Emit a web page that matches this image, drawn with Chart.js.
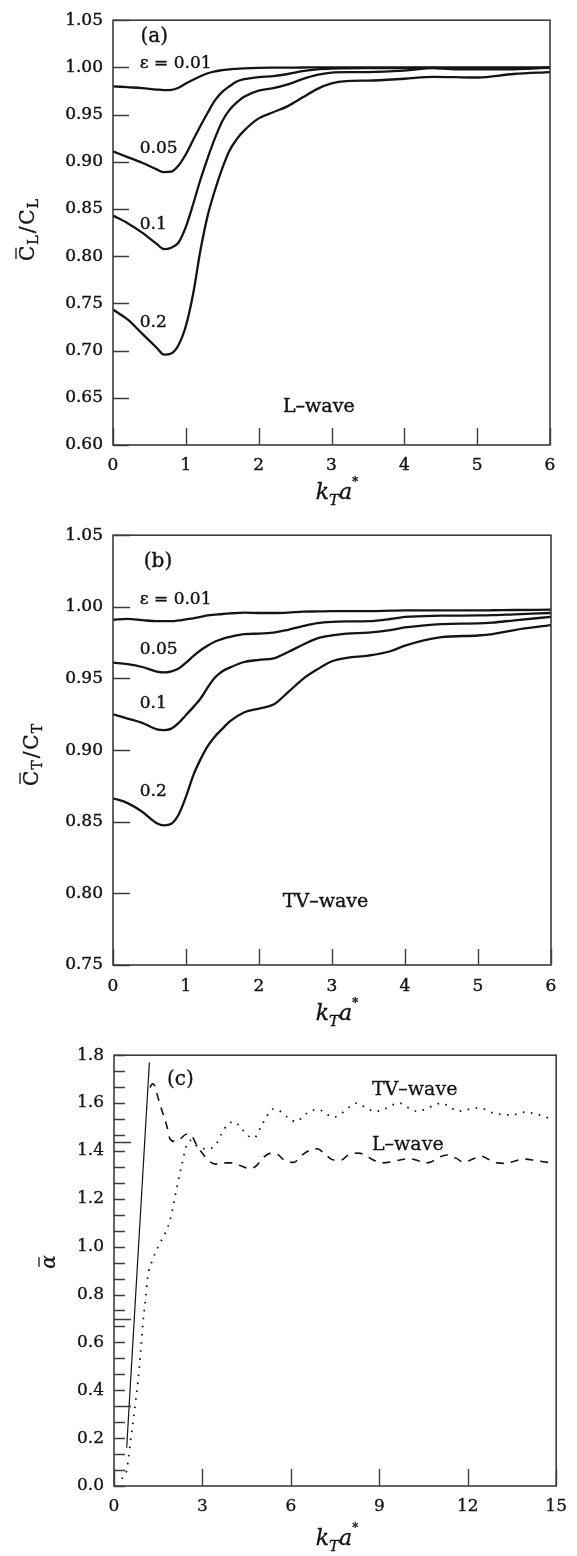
<!DOCTYPE html>
<html>
<head>
<meta charset="utf-8">
<script src="https://cdn.jsdelivr.net/npm/chart.js@4.4.1/dist/chart.umd.min.js"></script>
<style>
  html, body { margin: 0; padding: 0; background: #fff; }
  body { width: 577px; height: 1556px; position: relative; overflow: hidden; }
  .panel { position: absolute; left: 0; width: 577px; }
  #pa { top: 0; height: 515px; }
  #pb { top: 515px; height: 520px; }
  #pc { top: 1035px; height: 521px; }
</style>
</head>
<body>
<div class="panel" id="pa"><canvas id="ca"></canvas></div>
<div class="panel" id="pb"><canvas id="cb"></canvas></div>
<div class="panel" id="pc"><canvas id="cc"></canvas></div>
<script>
const SERIF = '"DejaVu Serif", "Liberation Serif", serif';
const INK = "#141414";
const FRAME = "#3c3c3c";

// (a) L-wave: C̄L/CL against kTa*
const kaA = [0, 0.2, 0.4, 0.6, 0.7, 0.8, 0.9, 1.0, 1.1, 1.2, 1.3, 1.4, 1.5, 1.6, 1.7, 1.8,
  2.0, 2.2, 2.4, 2.6, 2.8, 3.0, 3.2, 3.5, 4.0, 4.4, 4.7, 5.0, 5.5, 6.0];
const clEps001 = [0.980, 0.979, 0.978, 0.9765, 0.976, 0.9762, 0.9785, 0.983, 0.987, 0.9907, 0.9938, 0.9959, 0.997, 0.998, 0.9985, 0.999,
  0.9995, 0.9997, 0.9998, 0.9999, 1.0, 1.0, 1.0, 1.0, 1.0, 1.0, 1.0, 1.0, 1.0, 1.0];
const clEps005 = [0.911, 0.905, 0.899, 0.892, 0.889, 0.8895, 0.896, 0.908, 0.923, 0.938, 0.952, 0.965, 0.974, 0.980, 0.985, 0.9875,
  0.9897, 0.9908, 0.993, 0.996, 0.998, 0.9988, 0.999, 0.9992, 0.9993, 0.9995, 0.9988, 0.9988, 0.999, 0.9995];
const clEps01 = [0.843, 0.835, 0.825, 0.813, 0.8075, 0.809, 0.8145, 0.831, 0.855, 0.881, 0.904, 0.925, 0.943, 0.955, 0.963, 0.969,
  0.9755, 0.978, 0.982, 0.9875, 0.992, 0.9945, 0.995, 0.995, 0.9965, 0.9993, 0.998, 0.998, 0.998, 1.0];
const clEps02 = [0.7435, 0.733, 0.718, 0.703, 0.6957, 0.697, 0.706, 0.726, 0.760, 0.806, 0.843, 0.870, 0.893, 0.912, 0.924, 0.933,
  0.946, 0.9525, 0.959, 0.968, 0.977, 0.983, 0.9855, 0.986, 0.988, 0.990, 0.9896, 0.9893, 0.993, 0.995];
const clTicks = [0.60, 0.65, 0.70, 0.75, 0.80, 0.85, 0.90, 0.95, 1.00, 1.05];

// (b) TV-wave: C̄T/CT against kTa*
const kaB = [0, 0.2, 0.4, 0.6, 0.7, 0.8, 0.9, 1.0, 1.1, 1.2, 1.3, 1.4, 1.5, 1.6, 1.8,
  2.0, 2.2, 2.4, 2.6, 2.8, 3.0, 3.2, 3.5, 3.8, 4.0, 4.5, 5.0, 5.2, 5.5, 6.0];
const ctEps001 = [0.991, 0.9916, 0.9907, 0.990, 0.990, 0.990, 0.9905, 0.9913, 0.992, 0.993, 0.994, 0.9945, 0.995, 0.9954, 0.9959,
  0.9957, 0.9957, 0.996, 0.9966, 0.9968, 0.997, 0.997, 0.997, 0.9973, 0.9975, 0.9975, 0.9975, 0.9976, 0.9978, 0.998];
const ctEps005 = [0.961, 0.960, 0.958, 0.9548, 0.9542, 0.955, 0.957, 0.961, 0.9656, 0.9697, 0.973, 0.9758, 0.9777, 0.979, 0.981,
  0.9813, 0.982, 0.984, 0.9865, 0.9886, 0.9895, 0.9898, 0.990, 0.9915, 0.993, 0.9938, 0.994, 0.9942, 0.9948, 0.9957];
const ctEps01 = [0.925, 0.922, 0.919, 0.9145, 0.914, 0.915, 0.919, 0.9245, 0.930, 0.936, 0.944, 0.9508, 0.955, 0.9576, 0.9615,
  0.963, 0.964, 0.9685, 0.9735, 0.978, 0.980, 0.9813, 0.982, 0.9838, 0.9856, 0.988, 0.9884, 0.989, 0.9906, 0.993];
const ctEps02 = [0.8664, 0.863, 0.857, 0.849, 0.8475, 0.8486, 0.855, 0.8675, 0.8824, 0.8937, 0.903, 0.9097, 0.915, 0.920, 0.9264,
  0.929, 0.9318, 0.9405, 0.9496, 0.9564, 0.962, 0.9644, 0.966, 0.969, 0.9729, 0.9788, 0.980, 0.981, 0.9838, 0.9872];
const ctTicks = [0.75, 0.80, 0.85, 0.90, 0.95, 1.00, 1.05];
const kaTicks = [0, 1, 2, 3, 4, 5, 6];

// (c) ᾱ against kTa*
const solidX = [0.43, 1.2];
const solidY = [0.16, 1.77];
const lWaveX = [1.22, 1.3, 1.38, 1.5, 1.65, 1.8, 1.9, 2.05, 2.25, 2.45, 2.62, 2.8, 3.0, 3.2, 3.45, 3.7, 4.0, 4.25, 4.6, 4.8,
  5.05, 5.3, 5.55, 5.85, 6.1, 6.35, 6.65, 6.9, 7.15, 7.45, 7.7, 7.95, 8.3, 8.55, 8.8, 9.1, 9.4, 9.7, 10.0, 10.25,
  10.55, 10.75, 11.05, 11.3, 11.6, 11.85, 12.1, 12.45, 12.75, 13.0, 13.3, 13.6, 13.9, 14.3, 14.9];
const lWaveY = [1.665, 1.68, 1.672, 1.62, 1.56, 1.5, 1.45, 1.44, 1.45, 1.47, 1.465, 1.425, 1.39, 1.36, 1.345, 1.35, 1.35, 1.34, 1.327, 1.335,
  1.37, 1.39, 1.385, 1.355, 1.352, 1.38, 1.403, 1.409, 1.387, 1.362, 1.362, 1.383, 1.391, 1.38, 1.362, 1.35, 1.354, 1.362, 1.368, 1.362,
  1.35, 1.354, 1.375, 1.383, 1.37, 1.354, 1.362, 1.378, 1.362, 1.35, 1.348, 1.358, 1.366, 1.36, 1.348];
const tvWaveX = [0.26, 0.43, 0.48, 0.56, 0.65, 0.73, 0.81, 0.9, 0.98, 1.07, 1.14, 1.31, 1.53, 1.75, 1.9, 2.03, 2.14, 2.31, 2.44, 2.59,
  2.86, 3.2, 3.47, 3.64, 3.86, 4.08, 4.3, 4.53, 4.75, 4.97, 5.19, 5.41, 5.69, 5.91, 6.19, 6.41, 6.69, 6.96, 7.19, 7.46,
  7.74, 8.02, 8.24, 8.52, 8.85, 9.13, 9.4, 9.68, 9.96, 10.29, 10.51, 10.85, 11.12, 11.4, 11.68, 11.95, 12.28, 12.56, 12.84, 13.17,
  13.5, 13.92, 14.3, 14.9];
const tvWaveY = [0.03, 0.065, 0.106, 0.188, 0.27, 0.35, 0.434, 0.556, 0.68, 0.78, 0.87, 0.945, 1.007, 1.06, 1.11, 1.184, 1.252, 1.347, 1.416, 1.444,
  1.416, 1.409, 1.429, 1.47, 1.511, 1.522, 1.497, 1.465, 1.454, 1.497, 1.547, 1.576, 1.562, 1.538, 1.522, 1.545, 1.568, 1.572, 1.555, 1.541,
  1.559, 1.586, 1.6, 1.582, 1.566, 1.572, 1.59, 1.6, 1.582, 1.566, 1.572, 1.59, 1.6, 1.582, 1.566, 1.572, 1.579, 1.575, 1.559, 1.552,
  1.55, 1.562, 1.555, 1.53];
const alphaLabels = [0, 0.2, 0.4, 0.6, 0.8, 1.0, 1.2, 1.4, 1.6, 1.8];
const alphaMinorPerLabel = 3;
const alphaLongTicks = [1.437, 0.697, 0.334];
const kaTicksC = [0, 3, 6, 9, 12, 15];

function zip(xs, ys) {
  return xs.map((x, i) => ({ x, y: ys[i] }));
}

function f(size, style) {
  return `${style ? style + " " : ""}${size}px ${SERIF}`;
}

// draws a run of differently sized pieces (subscripts, bars) centred on cx
function drawRich(ctx, parts, cx, y, bold) {
  let w = 0;
  for (const p of parts) {
    ctx.font = p.font;
    p.w = ctx.measureText(p.t).width;
    w += p.w + (p.gap || 0);
  }
  let x = cx - w / 2;
  for (const p of parts) {
    ctx.font = p.font;
    ctx.fillText(p.t, x, y + (p.dy || 0));
    if (bold) {
      ctx.lineWidth = bold;
      ctx.strokeText(p.t, x, y + (p.dy || 0));
    }
    if (p.bar) {
      ctx.beginPath();
      ctx.lineWidth = 1.3;
      ctx.moveTo(x + 2, y - p.bar);
      ctx.lineTo(x + p.w - 2, y - p.bar);
      ctx.stroke();
    }
    x += p.w + (p.gap || 0);
  }
}

const kaTitle = [
  { t: "k", font: f(22, "italic") },
  { t: "T", font: f(15, "italic"), dy: 6 },
  { t: "a", font: f(22, "italic") },
  { t: "*", font: f(12), dy: -13 },
];

function ratioTitle(sub) {
  return [
    { t: "C", font: f(20), bar: 18, gap: 1 },
    { t: sub, font: f(14), dy: 4, gap: 2 },
    { t: "/", font: f(20), gap: 2 },
    { t: "C", font: f(20), gap: 1 },
    { t: sub, font: f(14), dy: 4 },
  ];
}

const decor = {
  id: "decor",
  afterDraw(chart, args, o) {
    const { ctx, chartArea: a, scales } = chart;
    const xs = scales.x, ys = scales.y;
    ctx.save();
    ctx.strokeStyle = FRAME;
    ctx.lineWidth = 1.4;
    ctx.beginPath();
    for (const t of ys.ticks) {
      const py = Math.round(ys.getPixelForValue(t.value)) + 0.5;
      ctx.moveTo(a.left, py);
      ctx.lineTo(a.left + o.yTickLen, py);
    }
    for (const v of o.longTicks || []) {
      const py = Math.round(ys.getPixelForValue(v)) + 0.5;
      ctx.moveTo(a.left, py);
      ctx.lineTo(a.left + 17, py);
    }
    for (const t of xs.ticks) {
      const px = Math.round(xs.getPixelForValue(t.value)) + 0.5;
      ctx.moveTo(px, a.bottom);
      ctx.lineTo(px, a.bottom - o.xTickLen);
    }
    ctx.stroke();
    ctx.lineWidth = 1.6;
    ctx.strokeRect(a.left, a.top, a.right - a.left, a.bottom - a.top);

    ctx.fillStyle = INK;
    ctx.strokeStyle = INK;
    ctx.textAlign = "left";
    ctx.textBaseline = "alphabetic";
    for (const n of o.notes) {
      ctx.font = f(n.size);
      const px = xs.getPixelForValue(n.x), py = ys.getPixelForValue(n.y);
      ctx.fillText(n.text, px, py);
      if (o.bold) {
        ctx.lineWidth = o.bold;
        ctx.strokeText(n.text, px, py);
      }
    }

    drawRich(ctx, kaTitle, o.xTitle.x, o.xTitle.y, o.bold);

    ctx.translate(o.yTitle.x, o.yTitle.y);
    ctx.rotate(-Math.PI / 2);
    drawRich(ctx, o.yTitle.parts, 0, 7, o.bold);
    ctx.restore();
  },
};

function makePanel(id, p) {
  const tickFont = { family: SERIF, size: 17 };
  return new Chart(document.getElementById(id), {
    type: "line",
    data: { datasets: p.datasets },
    options: {
      responsive: true,
      maintainAspectRatio: false,
      animation: false,
      devicePixelRatio: 1,
      events: [],
      layout: { padding: { top: p.top, right: p.right, left: 0, bottom: 0 } },
      plugins: { legend: { display: false }, tooltip: { enabled: false }, decor: p.decor },
      scales: {
        x: {
          type: "linear",
          min: p.xTicks[0],
          max: p.xTicks[p.xTicks.length - 1],
          afterBuildTicks: (s) => { s.ticks = p.xTicks.map((v) => ({ value: v })); },
          afterFit: (s) => { s.height = p.xAxisH; },
          grid: { display: false, drawTicks: false },
          border: { display: false },
          ticks: {
            padding: p.xPad,
            autoSkip: false,
            maxRotation: 0,
            color: INK,
            font: tickFont,
            textStrokeColor: INK,
            textStrokeWidth: p.decor.bold || 0,
            callback: (v) => String(v),
          },
        },
        y: {
          type: "linear",
          min: p.yMin,
          max: p.yMax,
          afterBuildTicks: (s) => { s.ticks = p.yTicks.map((v) => ({ value: v })); },
          afterFit: (s) => { s.width = p.left; },
          grid: { display: false, drawTicks: false },
          border: { display: false },
          ticks: {
            padding: 10,
            autoSkip: false,
            color: INK,
            font: tickFont,
            textStrokeColor: INK,
            textStrokeWidth: p.decor.bold || 0,
            callback: p.yFmt,
          },
        },
      },
    },
    plugins: [decor],
  });
}

function curve(xs, ys) {
  return {
    data: zip(xs, ys),
    borderColor: INK,
    borderWidth: 2.3,
    pointRadius: 0,
    fill: false,
    cubicInterpolationMode: "monotone",
  };
}

makePanel("ca", {
  top: 11, right: 577 - 550, left: 113, xAxisH: 70, xPad: 10,
  yMin: 0.60, yMax: 1.05, yTicks: clTicks, xTicks: kaTicks,
  yFmt: (v) => v.toFixed(2),
  datasets: [curve(kaA, clEps001), curve(kaA, clEps005), curve(kaA, clEps01), curve(kaA, clEps02)],
  decor: {
    bold: 0.4, yTickLen: 16, xTickLen: 17,
    notes: [
      { text: "(a)", x: 0.378, y: 1.0267, size: 20 },
      { text: "ε = 0.01", x: 0.368, y: 0.9992, size: 17 },
      { text: "0.05", x: 0.368, y: 0.9093, size: 17 },
      { text: "0.1", x: 0.368, y: 0.8291, size: 17 },
      { text: "0.2", x: 0.368, y: 0.7254, size: 17 },
      { text: "L\u2013wave", x: 2.334, y: 0.6345, size: 19 },
    ],
    xTitle: { x: 337, y: 499 },
    yTitle: { x: 27, y: 230, parts: ratioTitle("L") },
  },
});

makePanel("cb", {
  top: 12, right: 577 - 551, left: 113, xAxisH: 70, xPad: 11,
  yMin: 0.75, yMax: 1.05, yTicks: ctTicks, xTicks: kaTicks,
  yFmt: (v) => v.toFixed(2),
  datasets: [curve(kaB, ctEps001), curve(kaB, ctEps005), curve(kaB, ctEps01), curve(kaB, ctEps02)],
  decor: {
    bold: 0.4, yTickLen: 17, xTickLen: 16,
    notes: [
      { text: "(b)", x: 0.422, y: 1.0276, size: 20 },
      { text: "ε = 0.01", x: 0.367, y: 1.0019, size: 17 },
      { text: "0.05", x: 0.367, y: 0.967, size: 17 },
      { text: "0.1", x: 0.367, y: 0.9294, size: 17 },
      { text: "0.2", x: 0.367, y: 0.8679, size: 17 },
      { text: "TV\u2013wave", x: 2.327, y: 0.7906, size: 19 },
    ],
    xTitle: { x: 337, y: 505 },
    yTitle: { x: 31, y: 240, parts: ratioTitle("T") },
  },
});

const alphaTicks = [];
for (let i = 0; i < alphaLabels.length - 1; i++) {
  for (let j = 0; j < alphaMinorPerLabel; j++) {
    const step = (alphaLabels[i + 1] - alphaLabels[i]) / alphaMinorPerLabel;
    alphaTicks.push(alphaLabels[i] + j * step);
  }
}
alphaTicks.push(alphaLabels[alphaLabels.length - 1]);

makePanel("cc", {
  top: 11, right: 577 - 565, left: 114, xAxisH: 70, xPad: 10,
  yMin: 0, yMax: 1.8, yTicks: alphaTicks, xTicks: kaTicksC,
  yFmt: (v) => (alphaLabels.some((l) => Math.abs(l - v) < 1e-6) ? v.toFixed(1) : ""),
  datasets: [
    { data: zip(solidX, solidY), borderColor: INK, borderWidth: 1.2, pointRadius: 0, fill: false },
    { data: zip(lWaveX, lWaveY), borderColor: INK, borderWidth: 1.6, borderDash: [8, 7], pointRadius: 0, fill: false, cubicInterpolationMode: "monotone" },
    { data: zip(tvWaveX, tvWaveY), borderColor: INK, borderWidth: 1.8, borderDash: [1.6, 6.5], pointRadius: 0, fill: false, cubicInterpolationMode: "monotone" },
  ],
  decor: {
    bold: 0.3, yTickLen: 11, xTickLen: 17, longTicks: alphaLongTicks,
    notes: [
      { text: "(c)", x: 1.8, y: 1.676, size: 20 },
      { text: "TV\u2013wave", x: 8.75, y: 1.633, size: 19 },
      { text: "L\u2013wave", x: 8.75, y: 1.403, size: 19 },
    ],
    xTitle: { x: 337, y: 510 },
    yTitle: { x: 48, y: 227, parts: [{ t: "\u03b1", font: f(20, "italic"), bar: 16 }] },
  },
});
</script>
</body>
</html>
